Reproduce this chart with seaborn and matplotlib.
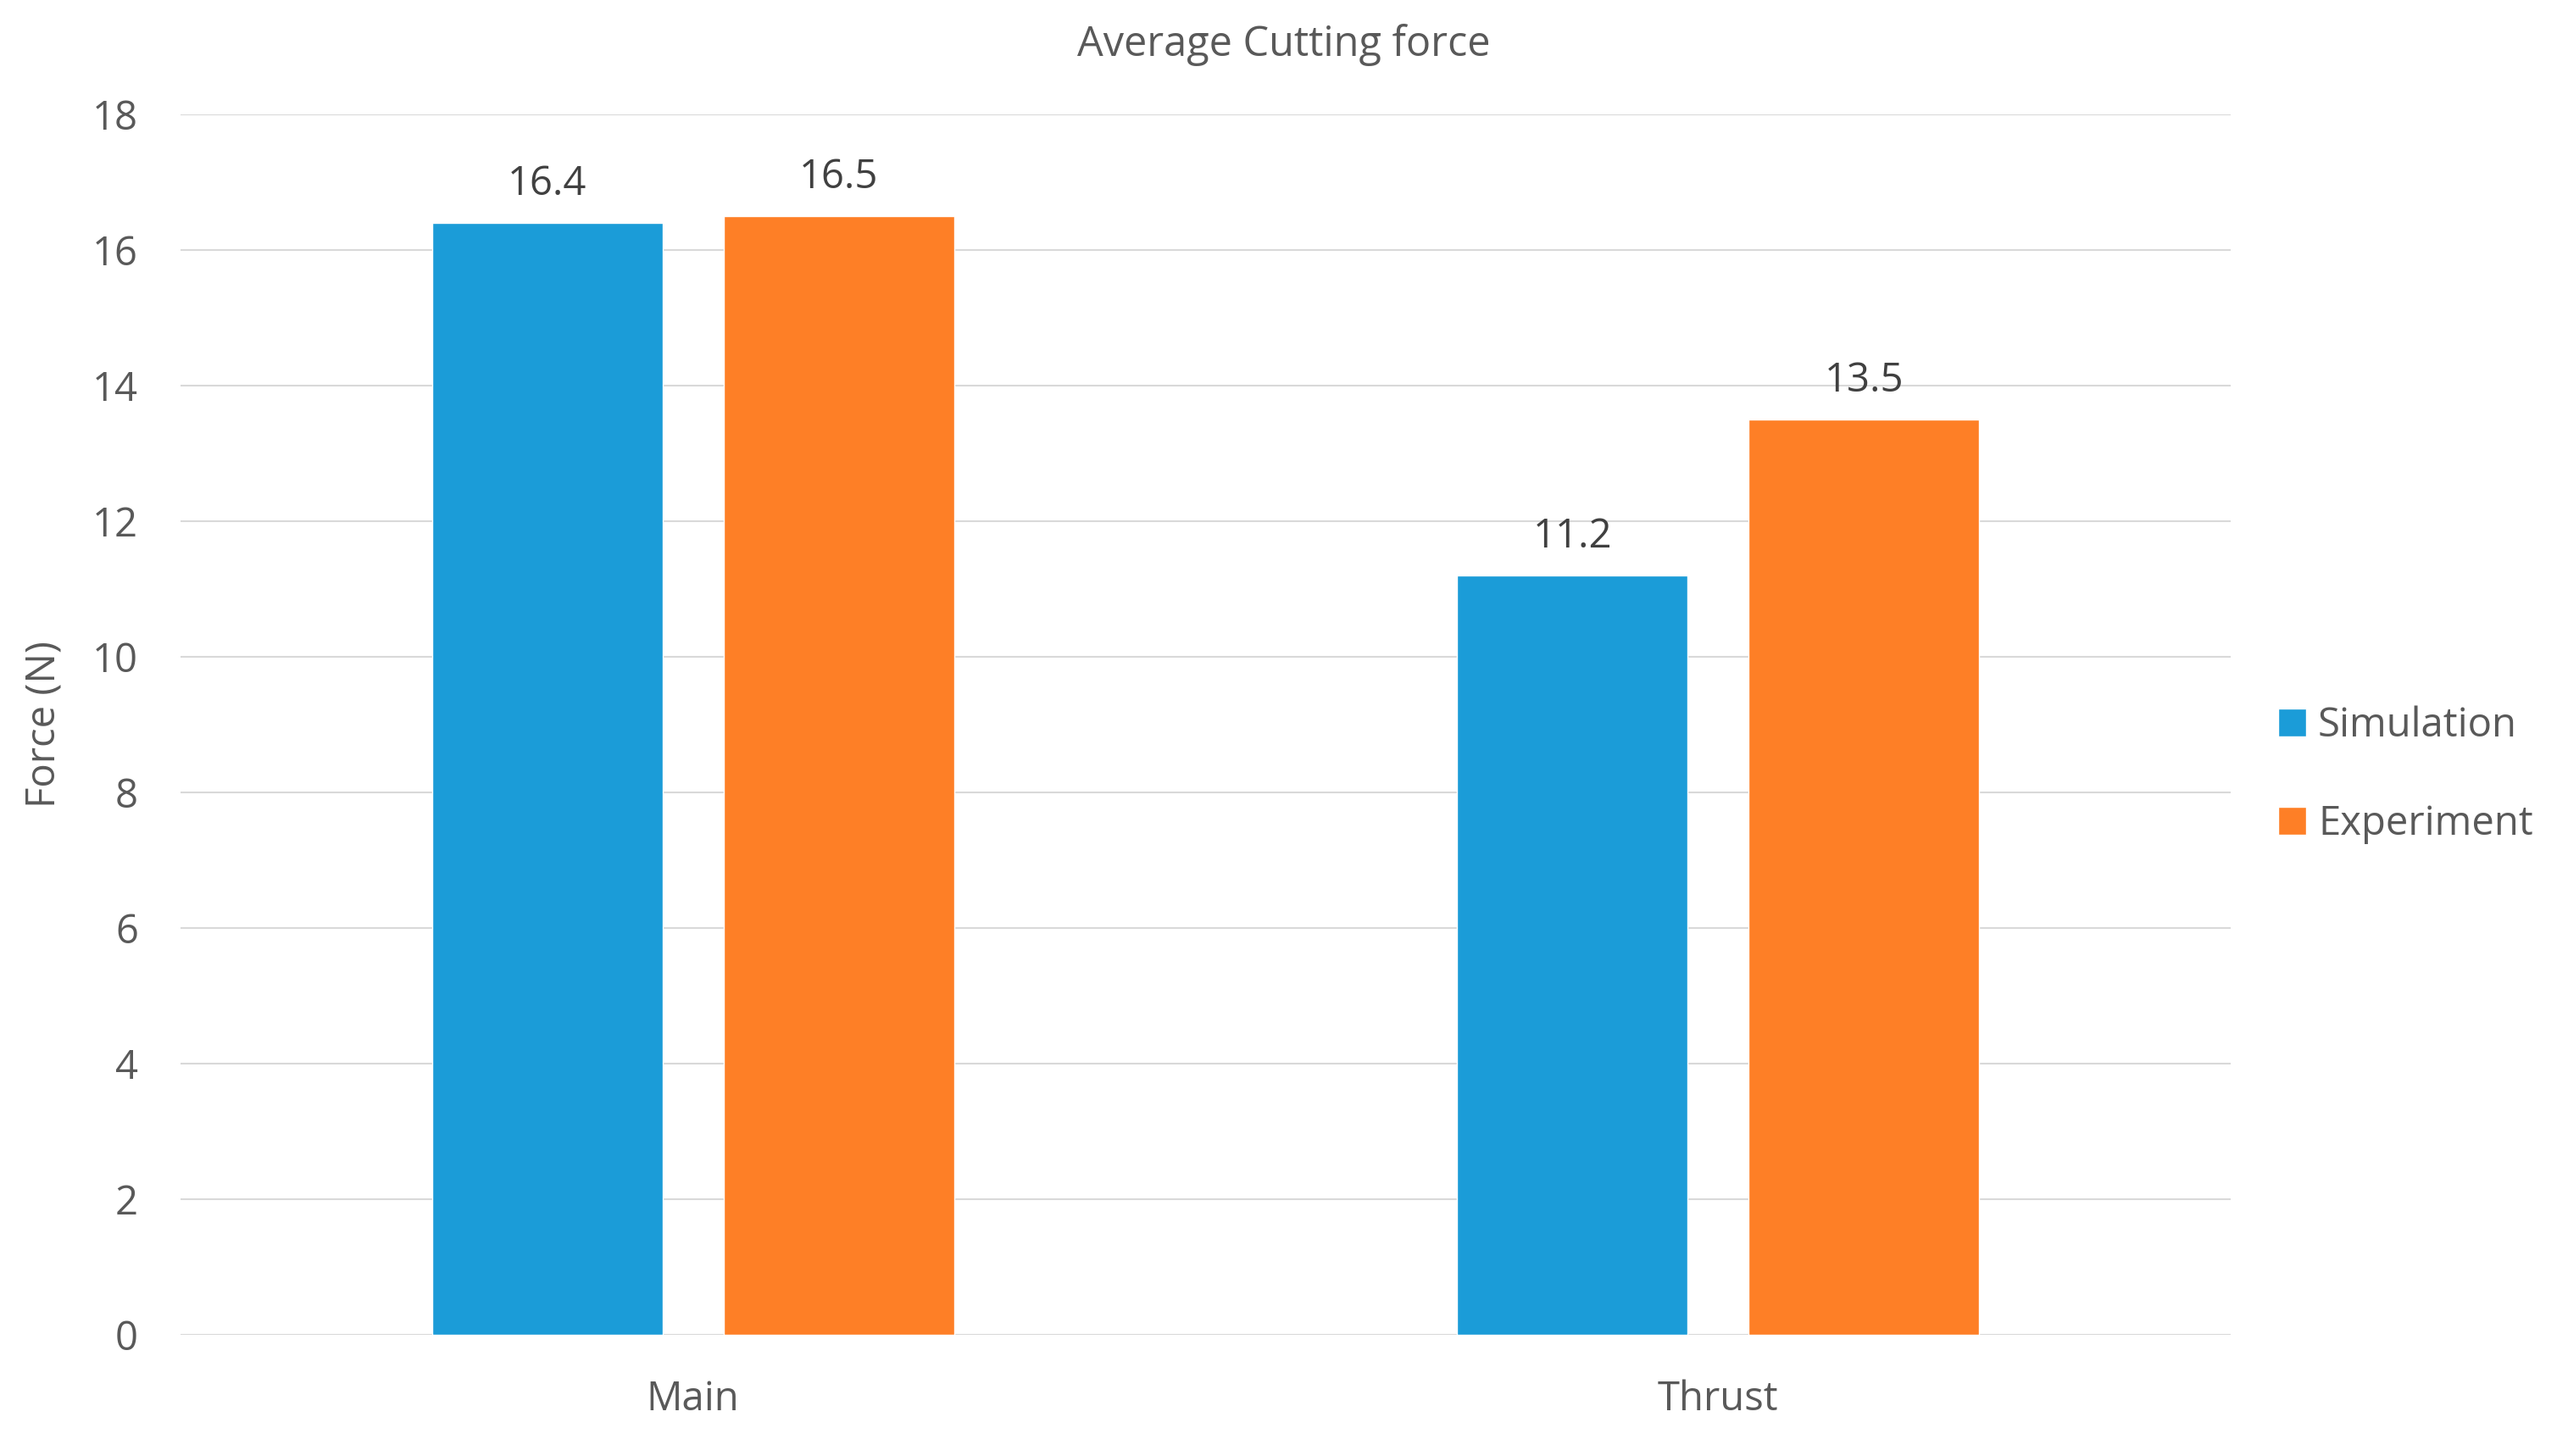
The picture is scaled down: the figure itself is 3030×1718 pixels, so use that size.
import pandas as pd
import matplotlib.pyplot as plt
import seaborn as sns

# Chart data
categories = ["Main", "Thrust"]
series = ["Simulation", "Experiment"]
simulation = [16.4, 11.2]
experiment = [16.5, 13.5]
colors = ["#1B9CD8", "#FE7F26"]

df = pd.DataFrame({
    "Component": categories * 2,
    "Source": [series[0]] * 2 + [series[1]] * 2,
    "Force": simulation + experiment,
})

sns.set_theme(style="white")
plt.rcParams["font.family"] = ["Open Sans", "DejaVu Sans"]
text_color = "#595959"

fig = plt.figure(figsize=(30.3, 17.18), dpi=100)
ax = fig.add_axes([0.0703, 0.0832, 0.7983, 0.8382])

sns.barplot(data=df, x="Component", y="Force", hue="Source",
            palette=colors, width=0.569, gap=0.21, saturation=1,
            ax=ax, legend=True)

ax.set_xlim(-0.5, 1.5)
ax.set_ylim(0, 18)
ax.set_yticks(range(0, 19, 2))
ax.yaxis.grid(True, color="#D9D9D9", linewidth=1.5)
ax.set_axisbelow(True)
for s in ax.spines.values():
    s.set_visible(False)

ax.tick_params(axis="y", length=0, pad=36, labelsize=34, labelcolor=text_color)
ax.tick_params(axis="x", length=0, pad=38, labelsize=34, labelcolor=text_color)

ax.set_xlabel("")
ax.set_ylabel("Force (N)", fontsize=34, color=text_color)
ax.yaxis.set_label_coords(-0.057, 0.5)

for cont in ax.containers:
    ax.bar_label(cont, fmt="%.1f", padding=16, fontsize=34, color="#404040")

fig.text(0.5, 0.969, "Average Cutting force", ha="center", va="center",
         fontsize=35, color=text_color)

handles, labels = ax.get_legend_handles_labels()
ax.legend_.remove()
fig.legend(handles, labels, loc="center left", bbox_to_anchor=(0.873, 0.468),
           frameon=False, labelcolor=text_color,
           handlelength=0.7, handleheight=0.7, handletextpad=0.3,
           labelspacing=1.45, prop={"size": 34})

fig.savefig("out.png", dpi=100, facecolor="white")
